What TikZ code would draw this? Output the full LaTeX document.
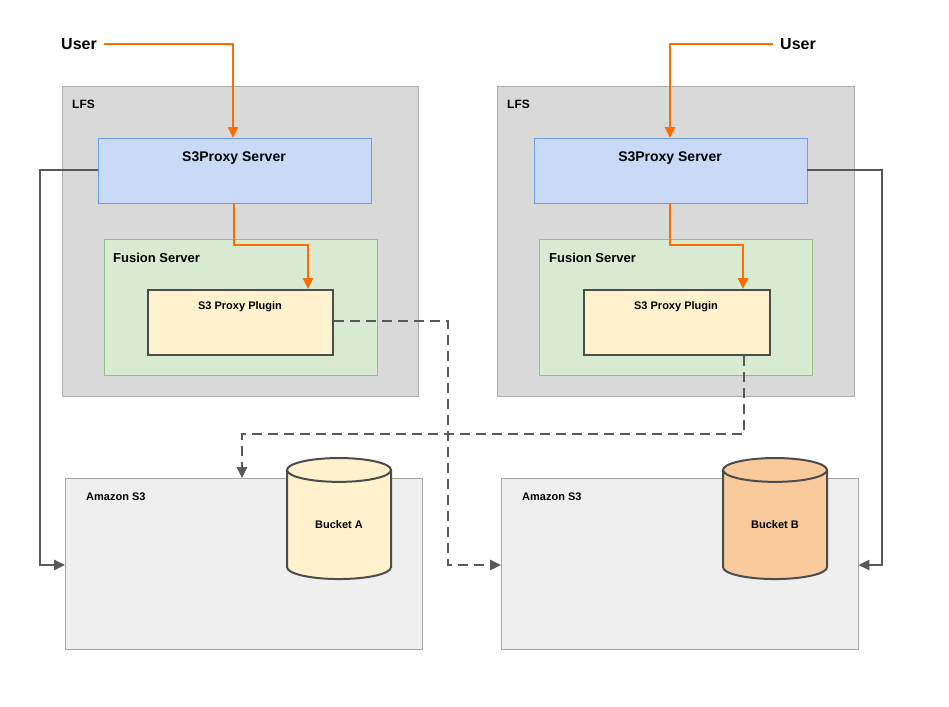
\documentclass[tikz,border=0pt]{standalone}
\usepackage{fontspec}
\setmainfont{Liberation Sans}
\usetikzlibrary{shapes.geometric, arrows.meta}
\definecolor{lfsGray}{HTML}{D9D9D9}
\definecolor{proxyBlue}{HTML}{C9DAF8}
\definecolor{proxyEdge}{HTML}{6D9EEB}
\definecolor{fusionGreen}{HTML}{D9EAD3}
\definecolor{fusionEdge}{HTML}{93C47D}
\definecolor{pluginYellow}{HTML}{FFF2CC}
\definecolor{bucketOrange}{HTML}{F9CB9C}
\definecolor{s3Gray}{HTML}{EFEFEF}
\definecolor{userOrange}{HTML}{FF6D01}
\definecolor{lineGray}{HTML}{595959}
\tikzset{
	box/.style={draw, inner sep=0pt, anchor=north west},
	lbl/.style={font=\bfseries, anchor=west, inner sep=0pt},
	user/.style={userOrange, line width=2.5pt, -{Triangle[length=11pt, width=10pt]}},
	link/.style={lineGray, line width=2.5pt, -{Triangle[length=11pt, width=10pt]}},
	bucket/.style={cylinder, shape border rotate=90, draw=black!70, line width=2pt, aspect=0.5, minimum width=104pt, minimum height=121pt, inner sep=0pt, font=\bfseries\fontsize{11}{13}\selectfont}
}
\begin{document}
\begin{tikzpicture}[x=1pt, y=-1pt]
	\useasboundingbox (0,0) rectangle (949,706);
	
	%LFS links
	\node[box, draw=lfsGray!80!black, fill=lfsGray, minimum width=356pt, minimum height=310pt] (lfsA) at (62,86) {};
	\node[lbl, font=\bfseries\fontsize{12}{14}\selectfont] at (72,104) {LFS};
	\node[box, draw=proxyEdge, fill=proxyBlue, minimum width=273pt, minimum height=65pt] (proxyA) at (98,138) {};
	\node[font=\bfseries\fontsize{14}{16}\selectfont] (proxyAText) at (234,158) {S3Proxy Server};
	\node[box, draw=fusionEdge, fill=fusionGreen, minimum width=273pt, minimum height=136pt] (fusionA) at (104,239) {};
	\node[lbl, font=\bfseries\fontsize{13}{15}\selectfont] at (113,258) {Fusion Server};
	\node[box, draw=black!70, line width=2pt, fill=pluginYellow, minimum width=185pt, minimum height=65pt] (pluginA) at (147,289) {};
	\node[font=\bfseries\fontsize{11}{13}\selectfont] at (240,307) {S3 Proxy Plugin};
	
	%LFS rechts
	\node[box, draw=lfsGray!80!black, fill=lfsGray, minimum width=357pt, minimum height=310pt] (lfsB) at (497,86) {};
	\node[lbl, font=\bfseries\fontsize{12}{14}\selectfont] at (507,104) {LFS};
	\node[box, draw=proxyEdge, fill=proxyBlue, minimum width=273pt, minimum height=65pt] (proxyB) at (534,138) {};
	\node[font=\bfseries\fontsize{14}{16}\selectfont] (proxyBText) at (670,158) {S3Proxy Server};
	\node[box, draw=fusionEdge, fill=fusionGreen, minimum width=273pt, minimum height=136pt] (fusionB) at (539,239) {};
	\node[lbl, font=\bfseries\fontsize{13}{15}\selectfont] at (549,258) {Fusion Server};
	\node[box, draw=black!70, line width=2pt, fill=pluginYellow, minimum width=186pt, minimum height=65pt] (pluginB) at (583,289) {};
	\node[font=\bfseries\fontsize{11}{13}\selectfont] at (676,307) {S3 Proxy Plugin};
	
	%Amazon S3
	\node[box, draw=black!35, fill=s3Gray, minimum width=357pt, minimum height=171pt] (s3A) at (65,478) {};
	\node[lbl, font=\bfseries\fontsize{11}{13}\selectfont] at (86,497) {Amazon S3};
	\node[bucket, fill=pluginYellow] (bucketA) at (339,525) {Bucket A};
	\node[box, draw=black!35, fill=s3Gray, minimum width=357pt, minimum height=171pt] (s3B) at (501,478) {};
	\node[lbl, font=\bfseries\fontsize{11}{13}\selectfont] at (522,497) {Amazon S3};
	\node[bucket, fill=bucketOrange] (bucketB) at (775,525) {Bucket B};
	
	%User
	\node[font=\bfseries\fontsize{16}{18}\selectfont] (userA) at (79,44) {User};
	\node[font=\bfseries\fontsize{16}{18}\selectfont] (userB) at (798,44) {User};
	\draw[user] (userA.east) ++(4,0) -| (proxyA.north -| 233,0);
	\draw[user] (userB.west) ++(-4,0) -| (proxyB.north -| 670,0);
	\draw[user] (proxyA.south -| 234,0) |- (308,245) -- (pluginA.north -| 308,0);
	\draw[user] (proxyB.south -| 670,0) |- (743,245) -- (pluginB.north -| 743,0);
	
	%Verbindungen
	\draw[link] (proxyA.west |- 0,170) -- (40,170) |- (s3A.west |- 0,565);
	\draw[link] (proxyB.east |- 0,170) -- (882,170) |- (s3B.east |- 0,565);
	\draw[link, dashed, dash pattern=on 10pt off 6pt] (pluginA.east |- 0,321) -| (448,565) -- (s3B.west |- 0,565);
	\draw[link, dashed, dash pattern=on 10pt off 6pt] (pluginB.south -| 744,0) |- (242,434) -- (s3A.north -| 242,0);

\end{tikzpicture}
\end{document}
